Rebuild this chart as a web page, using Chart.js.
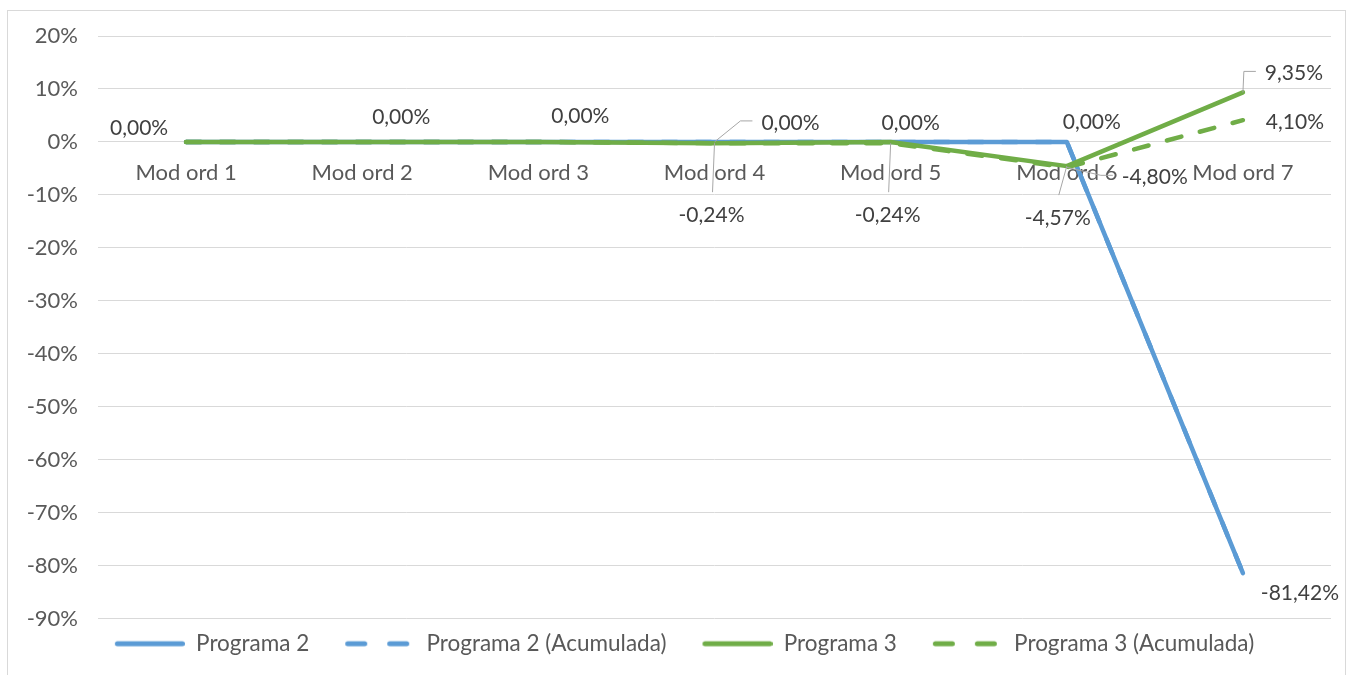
<!DOCTYPE html>
<html lang="es">
<head>
  <meta charset="UTF-8" />
  <title>Programa 2 / Programa 3 - Mod ord</title>
  <style>
    html, body { margin: 0; padding: 0; background: #fff; }
    #box { position: absolute; left: 7px; top: 10px; width: 1337px; height: 670px; border: 1px solid #d9d9d9; background: #fff; }
    canvas { display: block; }
  </style>
</head>
<body>

<div id="box"><canvas id="chart" width="1337" height="664"></canvas></div>

<script src="https://cdn.jsdelivr.net/npm/chart.js"></script>
<script>
// data (percent)
const categories = ['Mod ord 1', 'Mod ord 2', 'Mod ord 3', 'Mod ord 4', 'Mod ord 5', 'Mod ord 6', 'Mod ord 7'];
const programa2 = [0, 0, 0, 0, 0, 0, -81.42];
const programa2Acum = [0, 0, 0, 0, 0, 0, -81.42];
const programa3 = [0, 0, 0, -0.24, 0, -4.57, 9.35];
const programa3Acum = [0, 0, 0, -0.24, -0.24, -4.80, 4.10];
const yMin = -90, yMax = 20, yStep = 10;

const BLUE = '#5b9bd5';
const GREEN = '#70ad47';
const TEXT = '#595959';
const FONT = 'Lato, "Liberation Sans", sans-serif';
const GAP = 22; // empty space before each legend line

// where each data label sits relative to its point: [dx, dy, leader]
const labelPos = [
  [[-47, -14], [39, -25], [42, -26], [76, -19, 'elbow'], [20, -19], [25, -20], [57, 20]],
  [null, null, null, null, null, null, null],
  [null, null, null, [-3, 72, 'down'], null, [-9, 52, 'down'], [51, -19, 'elbow']],
  [null, null, null, null, [-3, 72, 'down'], [88, 10, 'elbow'], [52, 2]]
];

function fmt(v) {
  return v.toFixed(2).replace('.', ',') + '%';
}

// legend sample: empty gap then a 70px line
function legendSample(color, dashed) {
  const c = document.createElement('canvas');
  c.width = GAP + 70; c.height = 8;
  const g = c.getContext('2d');
  g.strokeStyle = color;
  g.lineWidth = 5;
  g.lineCap = 'round';
  g.beginPath();
  if (dashed) {
    g.moveTo(GAP + 2.5, 4); g.lineTo(GAP + 19.5, 4);
    g.moveTo(GAP + 44.5, 4); g.lineTo(GAP + 61.5, 4);
  } else {
    g.moveTo(GAP + 2.5, 4); g.lineTo(GAP + 67.5, 4);
  }
  g.stroke();
  return c;
}
const samples = [
  legendSample(BLUE, false), legendSample(BLUE, true),
  legendSample(GREEN, false), legendSample(GREEN, true)
];

const dataLabels = {
  id: 'dataLabels',
  afterDatasetsDraw(chart) {
    const ctx = chart.ctx;
    ctx.save();
    ctx.font = '21px ' + FONT;
    ctx.textAlign = 'center';
    ctx.textBaseline = 'middle';
    chart.data.datasets.forEach((ds, di) => {
      const meta = chart.getDatasetMeta(di);
      meta.data.forEach((pt, i) => {
        const p = labelPos[di][i];
        if (!p) return;
        const txt = fmt(ds.data[i]);
        const x = pt.x + p[0], y = pt.y + p[1];
        const w = ctx.measureText(txt).width;
        if (p[2]) {
          ctx.strokeStyle = '#a6a6a6';
          ctx.lineWidth = 1;
          ctx.beginPath();
          ctx.moveTo(pt.x, pt.y);
          if (p[2] === 'elbow') {
            const left = x - w / 2;
            ctx.lineTo(left - 21, y - 2);
            ctx.lineTo(left - 9, y - 2);
          } else {
            ctx.lineTo(x + 1, y - 23);
          }
          ctx.stroke();
        }
        ctx.fillStyle = '#404040';
        ctx.fillText(txt, x, y);
      });
    });
    ctx.restore();
  }
};

function lineSet(label, data, color, dashed, order) {
  return {
    label: label,
    data: data,
    borderColor: color,
    backgroundColor: color,
    borderWidth: 4.5,
    borderDash: dashed ? [15, 19] : [],
    borderCapStyle: 'round',
    borderJoinStyle: 'round',
    pointRadius: 0,
    tension: 0,
    fill: false,
    order: order
  };
}

Chart.defaults.font.family = FONT;
Chart.defaults.color = TEXT;

new Chart(document.getElementById('chart'), {
  type: 'line',
  data: {
    labels: categories,
    datasets: [
      lineSet('Programa 2', programa2, BLUE, false, 3),
      lineSet('Programa 2 (Acumulada)', programa2Acum, BLUE, true, 2),
      lineSet('Programa 3', programa3, GREEN, false, 1),
      lineSet('Programa 3 (Acumulada)', programa3Acum, GREEN, true, 0)
    ]
  },
  options: {
    responsive: false,
    animation: false,
    devicePixelRatio: 1,
    layout: { padding: { left: 8, right: 14, top: 25, bottom: 10 } },
    plugins: {
      tooltip: { enabled: false },
      legend: {
        position: 'bottom',
        labels: {
          usePointStyle: true,
          pointStyleWidth: GAP + 70,
          boxHeight: 8,
          padding: 14,
          color: TEXT,
          font: { size: 22.5 },
          sort: (a, b) => a.datasetIndex - b.datasetIndex,
          generateLabels(chart) {
            const items = Chart.defaults.plugins.legend.labels.generateLabels(chart);
            items.forEach(it => { it.pointStyle = samples[it.datasetIndex]; });
            return items;
          }
        }
      }
    },
    scales: {
      x: {
        type: 'category',
        offset: true,
        position: { y: 0 },
        grid: { display: false, drawTicks: false },
        border: { display: false },
        ticks: { color: TEXT, font: { size: 22 }, padding: 18, maxRotation: 0, autoSkip: false }
      },
      y: {
        min: yMin,
        max: yMax,
        grid: { color: '#d9d9d9', lineWidth: 1, drawTicks: true, tickLength: 20, tickColor: 'rgba(0,0,0,0)' },
        border: { display: false },
        ticks: {
          stepSize: yStep,
          color: TEXT,
          font: { size: 22 },
          padding: 0,
          callback: v => v + '%'
        },
        afterFit(scale) { scale.width = 82; }
      }
    }
  },
  plugins: [dataLabels]
});
</script>

</body>
</html>
